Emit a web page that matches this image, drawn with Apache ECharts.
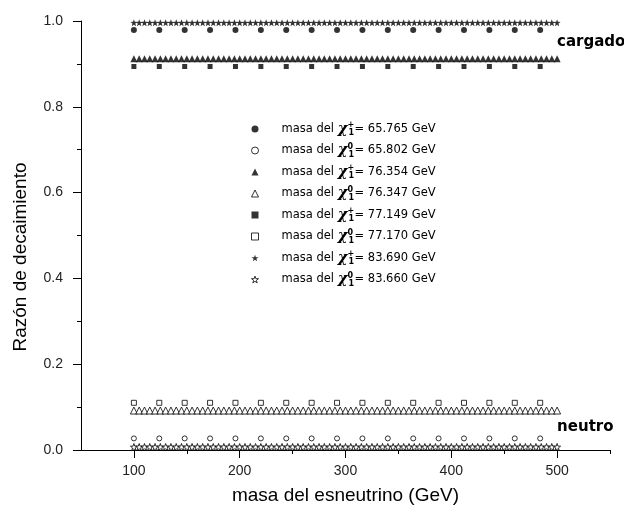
<!DOCTYPE html>
<html><head><meta charset="utf-8">
<script src="https://cdn.jsdelivr.net/npm/echarts@6/dist/echarts.min.js"></script>
<style>html,body{margin:0;padding:0;background:#fff}#c{width:624px;height:514px}</style>
</head><body><div id="c"></div>
<script>
// x positions (GeV) of the densely plotted series
const denseX = [100,105,110,115,120,125,130,135,140,145,150,155,160,165,170,175,180,185,190,195,
  200,205,210,215,220,225,230,235,240,245,250,255,260,265,270,275,280,285,290,295,
  300,305,310,315,320,325,330,335,340,345,350,355,360,365,370,375,380,385,390,395,
  400,405,410,415,420,425,430,435,440,445,450,455,460,465,470,475,480,485,490,495,500];
// x positions (GeV) of the sparsely plotted series
const sparseX = [100,124,148,172,196,220,244,268,292,316,340,364,388,412,436,460,484];
// legend: chargino/neutralino charge and mass
const chiCharge = ['+','0','+','0','+','0','+','0'];
const chiMass = ['65.765','65.802','76.354','76.347','77.149','77.170','83.690','83.660'];
// branching ratio level read for each series (flat lines)
const ratioLevel = [0.979, 0.027, 0.912, 0.092, 0.894, 0.110, 0.996, 0.007];
const xTickLabels = [100,200,300,400,500];
const xMinorTicks = [150,250,350,450,550];
const yTickLabels = [0,0.2,0.4,0.6,0.8,1.0];

const STAR = 'path://M0,-10L2.35,-3.24L9.51,-3.09L3.8,1.24L5.88,8.09L0,4L-5.88,8.09L-3.8,1.24L-9.51,-3.09L-2.35,-3.24Z';
const styles = [
  {symbol:'circle', size:6, fill:true, xs:sparseX},
  {symbol:'circle', size:5, fill:false, xs:sparseX},
  {symbol:'triangle', size:7, fill:true, xs:denseX},
  {symbol:'triangle', size:7, fill:false, xs:denseX},
  {symbol:'rect', size:5, fill:true, xs:sparseX},
  {symbol:'rect', size:5, fill:false, xs:sparseX},
  {symbol:STAR, size:7, fill:true, xs:denseX},
  {symbol:STAR, size:7, fill:false, xs:denseX}
];
const names = chiMass.map((m,i)=>'masa del χ'+chiCharge[i]+'1= '+m+' GeV');
const filledStyle = {color:'#000', borderColor:'#000', borderWidth:0};
const hollowStyle = {color:'#fff', borderColor:'#000', borderWidth:1};

const series = styles.map((s,i)=>({
  type:'scatter',
  name:names[i],
  symbol:s.symbol,
  symbolSize:s.size,
  itemStyle: s.fill ? filledStyle : hollowStyle,
  data: s.xs.map(x=>[x, ratioLevel[i]]),
  silent:true
}));

const chart = echarts.init(document.getElementById('c'), null, {renderer:'canvas'});
const axisFont = 'Liberation Sans, Arial, sans-serif';
chart.setOption({
  animation:false,
  backgroundColor:'#fff',
  grid:{left:81, right:14, top:21, bottom:64},
  legend:{
    orient:'vertical', left:251, top:121, padding:0,
    itemWidth:7, itemHeight:7, itemGap:5.5,
    selectedMode:false,
    data:names.map((n,i)=>({name:n, icon:styles[i].symbol,
      itemStyle: styles[i].fill ? filledStyle : hollowStyle})),
    formatter:function(n){
      const i = names.indexOf(n);
      return '{g| }{t|masa del }{chi|χ}{sp|'+chiCharge[i]+'}{sb|1}{t|= '+chiMass[i]+' GeV}';
    },
    textStyle:{
      rich:{
        g:{fontSize:11, width:18, lineHeight:16},
        t:{fontFamily:'DejaVu Sans, sans-serif', fontSize:11.5, color:'#000', lineHeight:16},
        chi:{fontFamily:'DejaVu Serif, serif', fontSize:15, fontWeight:'bold', fontStyle:'italic', color:'#000', lineHeight:16},
        sp:{fontFamily:'DejaVu Sans, sans-serif', fontSize:8, fontWeight:'bold', color:'#000', verticalAlign:'top', width:1, lineHeight:16},
        sb:{fontFamily:'DejaVu Sans, sans-serif', fontSize:8, fontWeight:'bold', color:'#000', verticalAlign:'bottom', lineHeight:16, width:6}
      }
    }
  },
  xAxis:[{
    type:'value', min:50, max:550, interval:50,
    name:'masa del esneutrino (GeV)', nameLocation:'middle', nameGap:36,
    nameTextStyle:{fontFamily:axisFont, fontSize:19, color:'#000'},
    axisLine:{show:true, onZero:false, lineStyle:{color:'#000', width:1}},
    axisTick:{show:true, length:8, inside:false, customValues:xTickLabels, lineStyle:{color:'#000'}},
    axisLabel:{show:true, customValues:xTickLabels, margin:14, fontFamily:axisFont, fontSize:14, color:'#222'},
    splitLine:{show:false}
  },{
    type:'value', min:50, max:550, interval:50, position:'bottom',
    axisLine:{show:false},
    axisTick:{show:true, length:4, inside:false, customValues:xMinorTicks, lineStyle:{color:'#000'}},
    axisLabel:{show:false},
    splitLine:{show:false}
  }],
  yAxis:{
    type:'value', min:0, max:1, interval:0.2,
    name:'Razón de decaimiento', nameLocation:'middle', nameGap:51,
    nameTextStyle:{fontFamily:axisFont, fontSize:19, color:'#000', padding:[0,43,0,0]},
    axisLine:{show:true, onZero:false, lineStyle:{color:'#000', width:1}},
    axisTick:{show:true, length:8, inside:false, lineStyle:{color:'#000'}},
    minorTick:{show:true, splitNumber:2, length:4, lineStyle:{color:'#000'}},
    axisLabel:{show:true, margin:18, fontFamily:axisFont, fontSize:14, color:'#222',
      customValues:yTickLabels, formatter:v=>v.toFixed(1)},
    splitLine:{show:false}, minorSplitLine:{show:false}
  },
  series:series
});

// side annotations anchored in data space
const capPos = chart.convertToPixel({gridIndex:0}, [500, 0.951]);
const neuPos = chart.convertToPixel({gridIndex:0}, [500, 0.054]);
chart.setOption({
  graphic:[
    {type:'text', x:capPos[0], y:capPos[1], style:{text:'cargado', font:'bold 15px DejaVu Sans, sans-serif', fill:'#000', textAlign:'left', textVerticalAlign:'middle'}},
    {type:'text', x:neuPos[0], y:neuPos[1], style:{text:'neutro', font:'bold 15px DejaVu Sans, sans-serif', fill:'#000', textAlign:'left', textVerticalAlign:'middle'}}
  ]
});
</script>
</body></html>
